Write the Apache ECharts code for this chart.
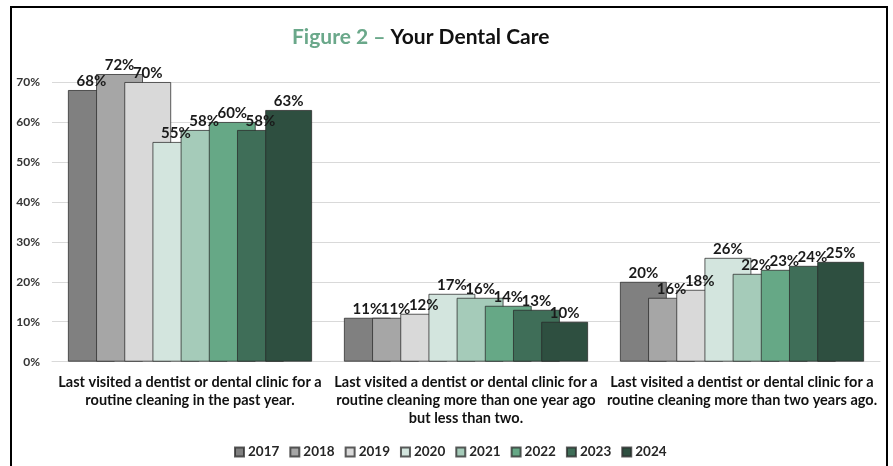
<!DOCTYPE html>
<html>
<head>
<meta charset="utf-8">
<script src="https://cdn.jsdelivr.net/npm/echarts@6/dist/echarts.min.js"></script>
<style>
  html, body { margin: 0; padding: 0; background: #fff; }
  #chart { width: 893px; height: 466px; }
</style>
</head>
<body>
<div id="chart"></div>
<script>
// Survey answers: when the respondent last had a routine dental cleaning
const categories = [
  'Last visited a dentist or dental clinic for a\nroutine cleaning in the past year.',
  'Last visited a dentist or dental clinic for a\nroutine cleaning more than one year ago\nbut less than two.',
  'Last visited a dentist or dental clinic for a\nroutine cleaning more than two years ago.'
];
const years = ['2017', '2018', '2019', '2020', '2021', '2022', '2023', '2024'];
// Percent of respondents, one array per survey year (same order as categories)
const v2017 = [68, 11, 20];
const v2018 = [72, 11, 16];
const v2019 = [70, 12, 18];
const v2020 = [55, 17, 26];
const v2021 = [58, 16, 22];
const v2022 = [60, 14, 23];
const v2023 = [58, 13, 24];
const v2024 = [63, 10, 25];
const yearValues = [v2017, v2018, v2019, v2020, v2021, v2022, v2023, v2024];
const yTicks = [0, 10, 20, 30, 40, 50, 60, 70];

const palette = ['#808080', '#a6a6a6', '#d9d9d9', '#d3e5de', '#a5cbb9', '#66a886', '#3f6e58', '#2e4f40'];
const font = 'Lato, "Liberation Sans", sans-serif';

const chart = echarts.init(document.getElementById('chart'), null, { renderer: 'canvas' });

const series = years.map((y, i) => ({
  name: y,
  type: 'bar',
  data: yearValues[i],
  barGap: '-40%',
  barCategoryGap: '11.5%',
  itemStyle: { color: palette[i], borderColor: 'rgba(40,40,40,0.75)', borderWidth: 1 },
  label: {
    show: true,
    position: 'top',
    distance: 1,
    formatter: '{c}%',
    color: '#1a1a1a',
    fontFamily: font,
    fontWeight: 'bold',
    fontSize: 15
  }
}));

// gridline colours, one per tick; the extra tick at the axis max stays invisible
const gridColors = yTicks.map(() => '#d9d9d9').concat(['rgba(0,0,0,0)']);

chart.setOption({
  animation: false,
  textStyle: { fontFamily: font },
  title: {
    text: '{g|Figure 2 \u2013 }{b|Your Dental Care}',
    left: 287,
    top: 22,
    textStyle: {
      rich: {
        g: { color: '#6aa88a', fontSize: 21, fontWeight: 'bold', fontFamily: font },
        b: { color: '#111', fontSize: 21, fontWeight: 'bold', fontFamily: font }
      }
    }
  },
  legend: {
    data: years,
    top: 440,
    left: 229,
    itemWidth: 9,
    itemHeight: 9,
    itemGap: 10,
    icon: 'rect',
    textStyle: { color: '#262626', fontFamily: font, fontWeight: 'bold', fontSize: 13.5, padding: [0, 0, 0, -1] }
  },
  grid: { left: 52, right: 13, top: 62, bottom: 104.3, containLabel: false },
  xAxis: {
    type: 'category',
    data: categories,
    axisTick: { show: false },
    axisLine: { show: true, lineStyle: { color: '#d9d9d9', width: 1 } },
    axisLabel: {
      interval: 0,
      margin: 12,
      color: '#111',
      fontFamily: font,
      fontWeight: 'bold',
      fontSize: 14.5,
      lineHeight: 18
    }
  },
  yAxis: {
    type: 'value',
    min: 0,
    max: 75,
    interval: 10,
    axisLine: { show: false },
    axisTick: { show: false },
    splitLine: { show: true, lineStyle: { color: gridColors, width: 1 } },
    axisLabel: {
      showMaxLabel: false,
      margin: 12,
      color: '#333',
      fontFamily: font,
      fontWeight: 'bold',
      fontSize: 12,
      formatter: v => (v % 10 === 0 ? v + '%' : '')
    }
  },
  graphic: [{
    type: 'rect',
    shape: { x: 11, y: 7, width: 876, height: 480 },
    style: { fill: 'none', stroke: '#000', lineWidth: 2 },
    silent: true
  }],
  series: series
});
</script>
</body>
</html>
